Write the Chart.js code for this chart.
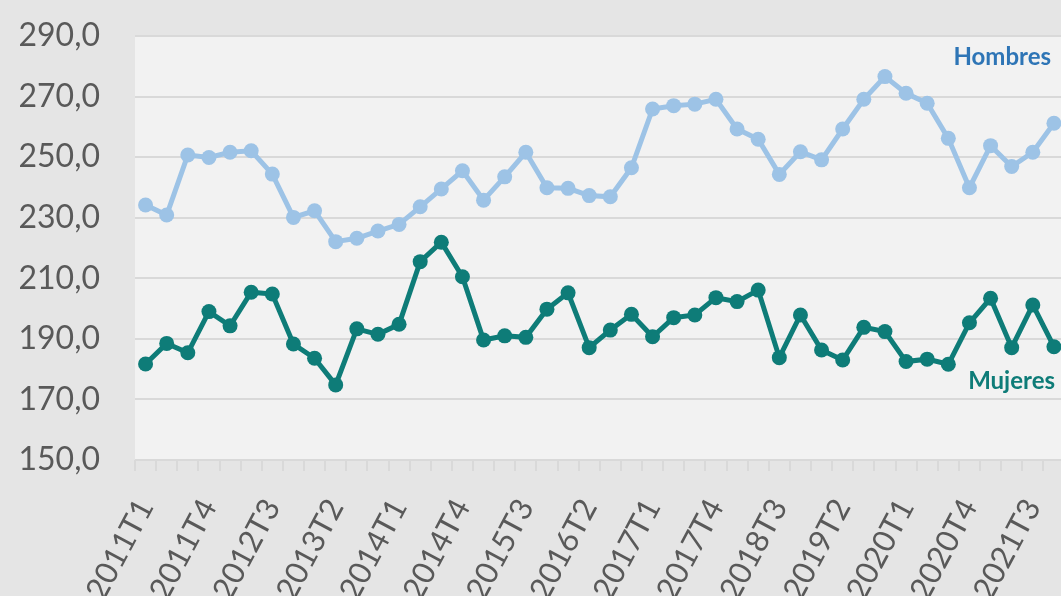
<!DOCTYPE html>
<html>
<head>
<meta charset="utf-8">
<script src="https://cdn.jsdelivr.net/npm/chart.js@4"></script>
<style>
    html, body { margin: 0; padding: 0; background: #e5e5e5; overflow: hidden; }
    #wrap { width: 1061px; height: 596px; overflow: hidden; position: relative; }
    #myChart { position: absolute; left: 0; top: 0; }
</style>
</head>
<body>
<div id="wrap"><canvas id="myChart" width="1072" height="640"></canvas></div>
<script>
const categories = [
    '2011T1', '2011T2', '2011T3', '2011T4', '2012T1', '2012T2', '2012T3', '2012T4',
    '2013T1', '2013T2', '2013T3', '2013T4', '2014T1', '2014T2', '2014T3', '2014T4',
    '2015T1', '2015T2', '2015T3', '2015T4', '2016T1', '2016T2', '2016T3', '2016T4',
    '2017T1', '2017T2', '2017T3', '2017T4', '2018T1', '2018T2', '2018T3', '2018T4',
    '2019T1', '2019T2', '2019T3', '2019T4', '2020T1', '2020T2', '2020T3', '2020T4',
    '2021T1', '2021T2', '2021T3', '2021T4'
];

const hombres = [
    234.2, 230.9, 250.7, 249.9, 251.6, 252.1, 244.4, 230.1, 232.3, 222.1,
    223.2, 225.6, 227.8, 233.6, 239.5, 245.5, 235.8, 243.5, 251.6, 239.9,
    239.7, 237.3, 236.9, 246.5, 265.9, 267.0, 267.5, 269.1, 259.3, 255.9,
    244.3, 251.8, 249.1, 259.3, 269.1, 276.6, 271.1, 267.8, 256.2, 239.9,
    253.8, 246.9, 251.6, 261.2
];

const mujeres = [
    181.7, 188.5, 185.4, 199.0, 194.3, 205.4, 204.8, 188.3, 183.6, 174.8,
    193.3, 191.5, 194.8, 215.5, 221.9, 210.5, 189.6, 191.0, 190.5, 199.8,
    205.2, 187.1, 192.9, 198.1, 190.7, 197.0, 197.9, 203.6, 202.3, 206.1,
    183.8, 197.9, 186.3, 183.0, 193.8, 192.4, 182.5, 183.3, 181.6, 195.3,
    203.4, 187.1, 201.2, 187.4
];

const yMin = 150;
const yMax = 290;
const yStep = 20;

// fondo gris claro del área de trazado
const plotBg = {
    id: 'plotBg',
    beforeDraw(chart) {
        const a = chart.chartArea;
        const ctx = chart.ctx;
        ctx.save();
        ctx.fillStyle = '#f2f2f2';
        ctx.fillRect(a.left, a.top, a.right - a.left, a.bottom - a.top);
        ctx.restore();
    }
};

// etiquetas de las series
const seriesLabels = {
    id: 'seriesLabels',
    afterDatasetsDraw(chart) {
        const ctx = chart.ctx;
        const y = chart.scales.y;
        ctx.save();
        ctx.font = 'bold 24px Lato';
        ctx.textAlign = 'right';
        ctx.textBaseline = 'middle';
        ctx.fillStyle = '#2e75b6';
        ctx.fillText('Hombres', 1051, y.getPixelForValue(283));
        ctx.fillStyle = '#0e7c78';
        ctx.fillText('Mujeres', 1055, y.getPixelForValue(176));
        ctx.restore();
    }
};

const ctx = document.getElementById('myChart');
const myChart = new Chart(ctx, {
    type: 'line',
    data: {
        labels: categories,
        datasets: [{
            label: 'Hombres',
            data: hombres,
            borderColor: '#9dc3e6',
            backgroundColor: '#9dc3e6',
            borderWidth: 5,
            pointRadius: 7.5,
            pointBorderWidth: 0,
            tension: 0
        }, {
            label: 'Mujeres',
            data: mujeres,
            borderColor: '#0e7c78',
            backgroundColor: '#0e7c78',
            borderWidth: 5,
            pointRadius: 7.5,
            pointBorderWidth: 0,
            tension: 0
        }]
    },
    options: {
        responsive: false,
        animation: false,
        layout: { padding: { top: 36, left: 0, right: 0, bottom: 0 } },
        plugins: {
            legend: { display: false },
            tooltip: { enabled: false }
        },
        scales: {
            x: {
                offset: true,
                grid: {
                    offset: true,
                    drawOnChartArea: false,
                    drawTicks: true,
                    tickLength: 11,
                    color: '#d9d9d9',
                    lineWidth: 2
                },
                border: { display: false },
                ticks: {
                    autoSkip: false,
                    maxRotation: 62,
                    minRotation: 62,
                    padding: 22,
                    color: '#595959',
                    font: { family: 'Lato', size: 31 },
                    callback: function (value, index) {
                        return index % 3 === 0 ? categories[index] : '';
                    }
                },
                afterFit: function (scale) {
                    scale.height = 180;
                    scale.paddingLeft = 0;
                    scale.paddingRight = 0;
                }
            },
            y: {
                min: yMin,
                max: yMax,
                grid: {
                    drawTicks: false,
                    color: '#d9d9d9',
                    lineWidth: 2
                },
                border: { display: false },
                ticks: {
                    stepSize: yStep,
                    padding: 35,
                    color: '#595959',
                    font: { family: 'Lato', size: 32 },
                    callback: function (value) {
                        return value.toFixed(1).replace('.', ',');
                    }
                },
                afterFit: function (scale) {
                    scale.width = 135;
                    scale.paddingTop = 0;
                    scale.paddingBottom = 0;
                }
            }
        }
    },
    plugins: [plotBg, seriesLabels]
});
</script>
</body>
</html>
